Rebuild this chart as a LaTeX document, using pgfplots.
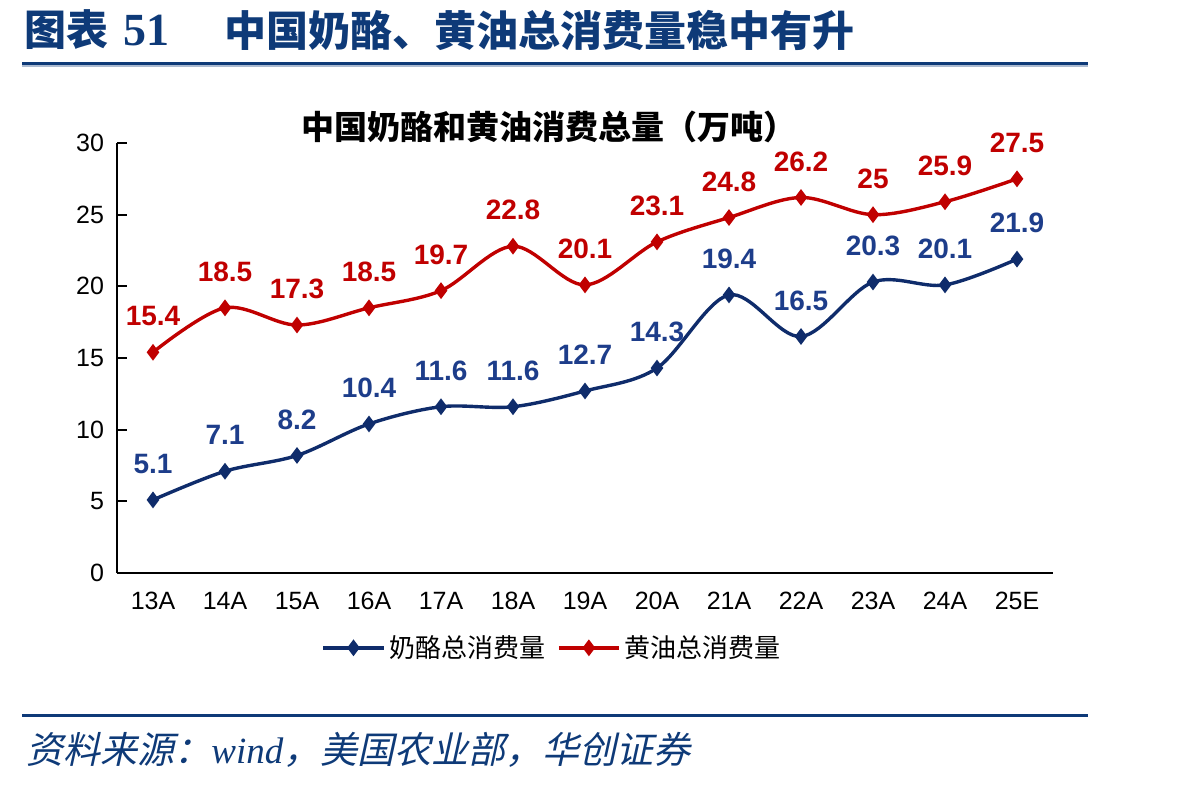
\documentclass[border=0pt]{standalone}
\usepackage{fontspec}
\usepackage{pgfplots}
\usepackage{pgfplotstable}
\pgfplotsset{compat=1.18}
\setmainfont{Liberation Sans}
\newfontfamily\serifnum{Liberation Serif}
\newfontfamily\cjk{Noto Sans CJK SC}
\newfontfamily\cjkit{Noto Sans CJK SC}[FakeSlant=0.22]

\definecolor{navy}{HTML}{0F2C6B}
\definecolor{navylabel}{HTML}{1D3D8A}
\definecolor{darkred}{HTML}{C00000}
\definecolor{titleblue}{HTML}{0E3A78}

% consumption in 10k tonnes: cheese and butter
\pgfplotstableread{
x cheese butter
0  5.1  15.4
1  7.1  18.5
2  8.2  17.3
3  10.4 18.5
4  11.6 19.7
5  11.6 22.8
6  12.7 20.1
7  14.3 23.1
8  19.4 24.8
9  16.5 26.2
10 20.3 25.0
11 20.1 25.9
12 21.9 27.5
}\consumption

\begin{document}
\begin{tikzpicture}
\useasboundingbox (0,0) rectangle (599pt,392pt);

% heading
\node[anchor=west, text=titleblue, font=\fontsize{21}{24}\selectfont\bfseries, inner sep=0pt]
  at (12pt,377pt) {\cjk 图表\hspace{0.35em}{\serifnum\fontsize{23}{24}\selectfont 51}};
\node[anchor=west, text=titleblue, font=\fontsize{21}{24}\selectfont\bfseries, inner sep=0pt]
  at (112pt,377pt) {\cjk 中国奶酪、黄油总消费量稳中有升};
\fill[titleblue] (11pt,359.5pt) rectangle (544pt,361pt);
\fill[titleblue!35] (11pt,358.6pt) rectangle (544pt,359.5pt);

% footer
\fill[titleblue] (11pt,33.5pt) rectangle (544pt,35pt);
\node[anchor=west, text=titleblue, font=\fontsize{18.5}{21}\selectfont, inner sep=0pt]
  at (13pt,17pt) {\cjkit 资料来源：{\serifnum\itshape wind}，美国农业部，华创证券};

\begin{axis}[
  at={(58.5pt,105.5pt)}, anchor=south west,
  scale only axis, width=468pt, height=215pt,
  xmin=-0.5, xmax=12.5, ymin=0, ymax=30,
  axis lines=left, axis line style={-, line width=1pt},
  ytick={0,5,...,30},
  xtick={0,...,12},
  xticklabels={13A,14A,15A,16A,17A,18A,19A,20A,21A,22A,23A,24A,25E},
  major x tick style={draw=none},
  extra x ticks={0.5,1.5,...,12.5},
  extra x tick labels={},
  extra x tick style={tick style={draw=black, line width=1pt}, major tick length=5pt},
  major tick length=5pt,
  tick style={line width=1pt, black},
  tick align=inside,
  /pgf/number format/assume math mode=true,
  tick label style={font=\fontsize{12.5}{14}\selectfont},
  yticklabel style={xshift=-3pt},
  xticklabel style={yshift=-6pt},
  title={\cjk\bfseries 中国奶酪和黄油消费总量（万吨）},
  title style={font=\fontsize{16.5}{19}\selectfont, at={(0.462,1)}, anchor=center, yshift=2pt},
  clip=false,
  nodes near coords,
  every node near coord/.append style={anchor=center, yshift=18pt,
     font=\fontsize{14}{16}\selectfont\bfseries},
  legend columns=2,
  legend style={draw=none, fill=none, at={(0.466,-0.174)}, anchor=center,
     font=\cjk\fontsize{13}{15}\selectfont,
     /tikz/every even column/.append style={column sep=4pt}},
  legend image code/.code={\draw[mark repeat=2, mark phase=2, #1]
     plot coordinates {(0pt,0pt) (15pt,0pt) (30pt,0pt)};},
]
\addplot[navy, line width=1.7pt, smooth, tension=0.55,
  mark=diamond*, mark size=2.8pt, mark options={solid},
  nodes near coords style={text=navylabel}]
  table[x=x, y=cheese] {\consumption};
\addlegendentry{奶酪总消费量}
\addplot[darkred, line width=1.7pt, smooth, tension=0.55,
  mark=diamond*, mark size=2.8pt, mark options={solid},
  nodes near coords style={text=darkred}]
  table[x=x, y=butter] {\consumption};
\addlegendentry{黄油总消费量}
\end{axis}
\end{tikzpicture}
\end{document}
